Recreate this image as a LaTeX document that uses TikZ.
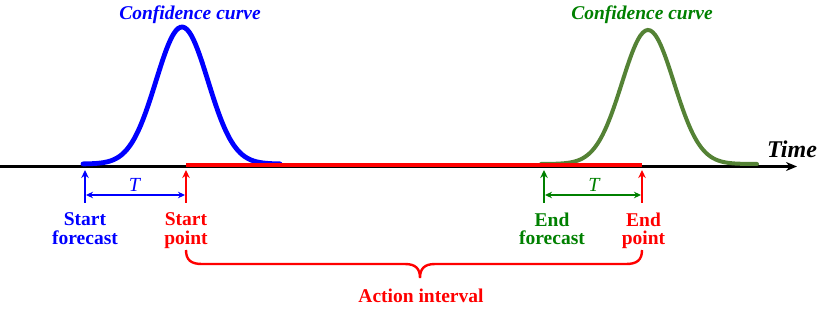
\documentclass[tikz,border=0pt]{standalone}
\usepackage{fontspec}
\setmainfont{Liberation Serif}
\usetikzlibrary{arrows.meta,positioning}
\definecolor{curvegreen}{RGB}{84,130,53}
\definecolor{labelgreen}{RGB}{0,128,0}

\begin{document}
\begin{tikzpicture}[x=1pt, y=-1pt,
  lbl/.style={font=\fontsize{19.5}{18.5}\selectfont\bfseries, align=center, inner sep=0pt},
  title/.style={font=\fontsize{19.5}{22}\selectfont\bfseries\itshape, inner sep=0pt, anchor=base},
  tick/.style={line width=2.4pt, shorten >=3.5pt, -{Stealth[length=8pt,width=7.5pt]}},
  span/.style={line width=2pt, shorten <=1pt, shorten >=1pt, {Stealth[length=7pt,width=6.5pt]}-{Stealth[length=7pt,width=6.5pt]}},
  conf/.style={line width=4.8pt, line cap=round}]
  \useasboundingbox (0,0) rectangle (830,308);
  % time axis
  \coordinate (ax0) at (0,166.5);
  \coordinate (ax1) at (797,166.5);
  \draw[line width=2.4pt, -{Stealth[length=11pt,width=9pt]}] (ax0) -- (ax1);
  \node[title, font=\fontsize{24}{26}\selectfont\bfseries\itshape] (time) at (792,157) {Time};
  % confidence curves
  \draw[conf, blue] plot[domain=-99:98, samples=90, smooth] ({182+\x},{164-137*exp(-0.5*(\x/26)^2)});
  \draw[conf, curvegreen, line width=4pt] plot[domain=-107:109, samples=90, smooth] ({648+\x},{164-134*exp(-0.5*(\x/26)^2)});
  \node[title, text=blue] (cb) at (190,19) {Confidence curve};
  \node[title, text=labelgreen] (cg) at (642,19) {Confidence curve};
  % points on the axis
  \coordinate (sf) at (85,166.5);
  \coordinate (sp) at (186,166.5);
  \coordinate (ef) at (544,166.5);
  \coordinate (ep) at (642,166.5);
  \draw[red, line width=3.5pt] ([yshift=1.5pt]sp) -- ([yshift=1.5pt]ep);
  \coordinate[below=36pt of sf] (sfb);
  \coordinate[below=36pt of sp] (spb);
  \coordinate[below=36pt of ef] (efb);
  \coordinate[below=36pt of ep] (epb);
  \draw[tick, blue] (sfb) -- (sf);
  \draw[tick, red] (spb) -- (sp);
  \draw[tick, labelgreen] (efb) -- (ef);
  \draw[tick, red] (epb) -- (ep);
  % forecast horizon T
  \coordinate[below=28.5pt of sf] (sfm);
  \coordinate[below=28.5pt of sp] (spm);
  \coordinate[below=28.5pt of ef] (efm);
  \coordinate[below=28.5pt of ep] (epm);
  \draw[span, blue] (sfm) -- (spm);
  \draw[span, labelgreen] (efm) -- (epm);
  \node[font=\fontsize{20}{22}\selectfont\itshape, text=blue, inner sep=0pt, anchor=base] (tb) at (134.5,191) {T};
  \node[font=\fontsize{20}{22}\selectfont\itshape, text=labelgreen, inner sep=0pt, anchor=base] (tg) at (594,191) {T};
  % labels
  \node[lbl, text=blue, anchor=north] (sfl) at (85,212.5) {Start\\forecast};
  \node[lbl, text=red, anchor=north] (spl) at (186,212.5) {Start\\point};
  \node[lbl, text=labelgreen, anchor=north] (efl) at (552,212.5) {End\\forecast};
  \node[lbl, text=red, anchor=north] (epl) at (643.5,212.5) {End\\point};
  % action interval
  \draw[red, line width=2.4pt] (186,250) .. controls (186,260) and (191,264) .. (202,264) -- (405,264)
    .. controls (416,264) and (420,269) .. (420,278) .. controls (420,269) and (424,264) .. (435,264)
    -- (626,264) .. controls (637,264) and (642,260) .. (642,250);
  \node[lbl, text=red, anchor=base] (act) at (421,302) {Action interval};
\end{tikzpicture}
\end{document}
